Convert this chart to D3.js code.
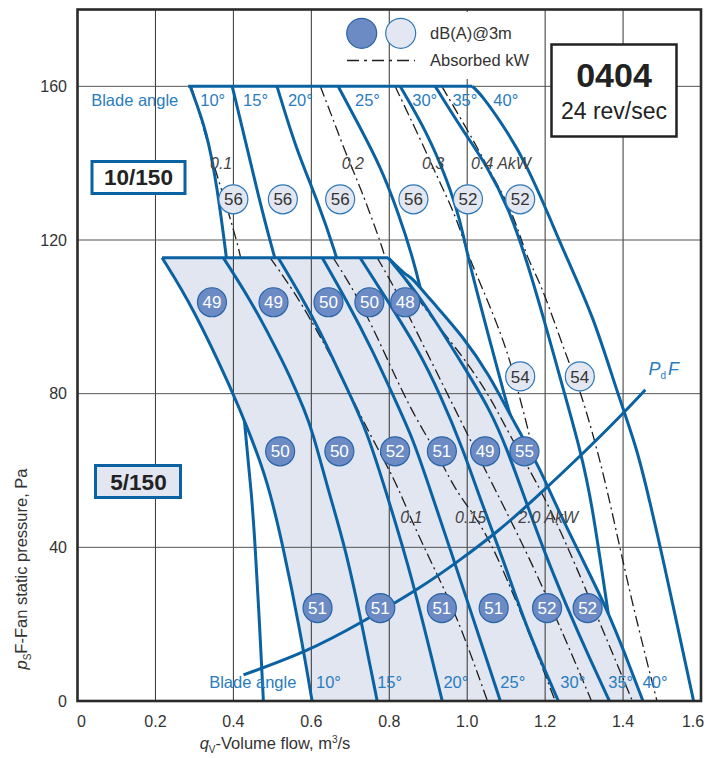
<!DOCTYPE html>
<html><head><meta charset="utf-8">
<script src="https://cdn.jsdelivr.net/npm/d3@7"></script>
<style>
body{margin:0;background:#fff;}
svg text{font-family:"Liberation Sans",Arial,Helvetica,sans-serif;}
</style></head><body>
<svg id="chart" width="723" height="758"></svg>
<script>
// ---------------- DATA (flow m3/s, static pressure Pa) ----------------
const xTicks = [0, 0.2, 0.4, 0.6, 0.8, 1.0, 1.2, 1.4, 1.6];
const xTickLabels = ["0", "0.2", "0.4", "0.6", "0.8", "1.0", "1.2", "1.4", "1.6"];
const yTicks = [0, 40, 80, 120, 160];
const bladeAngles = ["10°", "15°", "20°", "25°", "30°", "35°", "40°"];

// Hub 10/150 (upper family)
const upperTop = [[0.284,160],[1.013,160]];
const upper10 = [[0.289,160],[0.333,148.0],[0.358,133.9],[0.381,116.7],[0.404,96.7],[0.428,73.7],[0.448,52.4],[0.456,40.1],[0.468,18.5],[0.477,0]];
const upper15 = [[0.397,160],[0.430,146.2],[0.463,131.9],[0.502,116.7],[0.515,112.4]];
const upper20 = [[0.512,160],[0.561,143.6],[0.615,130.6],[0.666,115.4],[0.672,112.4]];
const upper25 = [[0.669,160],[0.725,149.3],[0.777,139.2],[0.823,127.2],[0.862,114.9],[0.882,106.5]];
const upper30 = [[0.828,160],[0.897,148.0],[0.948,135.8],[0.982,125.3],[1.003,114.9],[1.054,95.4],[1.103,76.6],[1.113,73.8]];
const upper35 = [[0.918,160],[0.990,148.3],[1.052,139.2],[1.108,127.9],[1.152,114.9],[1.195,100.1],[1.249,80.3],[1.290,65.4],[1.319,52.4],[1.362,22.7]];
const upper40 = [[1.013,160],[1.034,158.2],[1.103,148.3],[1.154,139.2],[1.206,127.2],[1.257,114.9],[1.324,100.1],[1.385,80.3],[1.437,65.4],[1.469,51.6],[1.496,40.1],[1.581,0]];
const upperKw01 = [[0.293,159.7],[0.315,152.3],[0.345,141.0],[0.383,128.8],[0.417,116.7],[0.422,113.4]];
const upperKw02 = [[0.623,160],[0.656,151.4],[0.691,141.8],[0.725,134.0],[0.785,117.5],[0.794,113.4]];
const upperKw03 = [[0.815,160],[0.880,146.2],[0.926,135.8],[0.975,125.3],[1.003,115.7],[1.041,107.1],[1.103,91.5],[1.131,80.3],[1.162,68.8],[1.195,51.6],[1.208,44.6]];
const upperKw04 = [[0.935,160],[1.025,144.4],[1.059,137.6],[1.118,127.2],[1.154,114.9],[1.188,109.2],[1.257,88.9],[1.290,81.0],[1.334,65.4],[1.367,51.6],[1.421,26.3],[1.487,0]];
const upperKwLabels = ["0.1", "0.2", "0.3", "0.4 AkW"];
const upperNoise = [[0.400,130.6,56],[0.527,130.6,56],[0.674,130.6,56],[0.862,130.6,56],[1.002,130.6,52],[1.136,130.6,52],[1.136,84.5,54],[1.289,84.5,54]];

// Hub 5/150 (lower, shaded family)
const lowerTop = [[0.217,115.4],[0.797,115.4]];
const lower10 = [[0.217,115.4],[0.297,102.4],[0.399,80.3],[0.438,70.6],[0.487,57.6],[0.528,40.1],[0.571,18.5],[0.602,0]];
const lower15 = [[0.374,115.4],[0.443,104.5],[0.502,93.3],[0.546,84.4],[0.582,75.8],[0.602,70.6],[0.648,53.2],[0.687,40.1],[0.733,18.5],[0.769,0]];
const lower20 = [[0.515,115.4],[0.605,100.1],[0.674,85.0],[0.743,70.6],[0.795,53.2],[0.854,34.1],[0.936,0]];
const lower25 = [[0.628,115.4],[0.692,104.0],[0.756,91.5],[0.815,78.4],[0.862,68.0],[0.905,55.0],[0.957,39.3],[1.008,23.7],[1.085,0]];
const lower30 = [[0.725,115.4],[0.797,104.0],[0.874,91.5],[0.931,79.7],[0.990,65.4],[1.034,52.4],[1.093,36.7],[1.154,18.5],[1.234,0]];
const lower35 = [[0.797,115.4],[0.854,108.4],[0.905,101.1],[0.990,87.3],[1.059,75.8],[1.103,65.4],[1.149,52.4],[1.201,38.0],[1.257,24.2],[1.316,10.7],[1.365,0]];
const lower40 = [[0.797,115.4],[0.846,110.5],[0.856,110.5],[0.905,104.5],[0.990,94.9],[1.059,84.4],[1.103,75.8],[1.136,69.8],[1.188,60.2],[1.221,52.4],[1.290,38.0],[1.360,23.7],[1.406,12.0],[1.451,0]];
const lowerKw010 = [[0.494,115.4],[0.571,104.5],[0.674,85.5],[0.743,70.6],[0.815,57.6],[0.854,47.7],[0.905,36.7],[0.975,21.9],[1.052,0]];
const lowerKw015 = [[0.656,115.4],[0.713,106.3],[0.769,94.9],[0.854,75.8],[0.918,65.4],[0.969,55.0],[1.008,49.8],[1.059,42.0],[1.136,23.7],[1.226,0]];
const lowerKw020 = [[0.769,115.4],[0.821,106.3],[0.880,94.1],[0.944,81.0],[0.995,70.6],[1.046,60.2],[1.098,49.8],[1.162,36.7],[1.231,21.1],[1.319,0]];
const lowerKw025 = [[0.841,109.7],[0.905,100.1],[0.990,89.6],[1.059,79.2],[1.111,68.8],[1.175,57.6],[1.239,44.6],[1.316,26.3],[1.424,0]];
const lowerKwLabels = ["0.1", "0.15", "2.0 AkW"];
const lowerNoise = [[0.345,103.8,49],[0.503,103.8,49],[0.644,103.8,50],[0.749,103.8,50],[0.841,103.8,48],
  [0.520,65,50],[0.672,65,50],[0.815,65,52],[0.935,65,51],[1.046,65,49],[1.147,65,55],
  [0.616,24.2,51],[0.777,24.2,51],[0.935,24.2,51],[1.068,24.2,51],[1.205,24.2,52],[1.309,24.2,52]];

// Dynamic pressure curve PdF
const pdF = [[0.426,6.8],[0.589,12.8],[0.725,20.2],[0.880,29.4],[0.982,36.7],[1.085,44.6],[1.171,52.4],[1.290,63.7],[1.402,75.0],[1.457,81.0]];

// ---------------- DRAWING ----------------
const svg = d3.select("#chart");
const X0 = 77.5, X1 = 701, Y0 = 701, Y1 = 9.5;
const x = d3.scaleLinear().domain([0, 1.6]).range([X0, X1]);
const y = d3.scaleLinear().domain([0, 180]).range([Y0, Y1]);
const BLUE = "#0b62a3", LBLUE = "#2a7cc0", SHADE = "#e2e6f1", DARKC = "#6c8bc4", LIGHTC = "#e3e7f2";
const line = d3.line().x(d => x(d[0])).y(d => y(d[1])).curve(d3.curveBasis);
const straight = d3.line().x(d => x(d[0])).y(d => y(d[1]));

svg.append("rect").attr("width", 723).attr("height", 758).attr("fill", "#fff");
const defs = svg.append("defs");
defs.append("clipPath").attr("id", "plot").append("rect")
  .attr("x", X0).attr("y", Y1).attr("width", X1 - X0).attr("height", Y0 - Y1);
const shadePath = line(lower40) + "L" + line(lower10.slice().reverse()).slice(1) + "Z";
defs.append("clipPath").attr("id", "shade").append("path").attr("d", shadePath);

function grid(g) {
  g.selectAll(".vx").data(xTicks.slice(1, -1)).join("line")
    .attr("x1", d => x(d)).attr("x2", d => x(d)).attr("y1", Y1).attr("y2", Y0)
    .attr("stroke", "#333").attr("stroke-width", 1);
  g.selectAll(".hy").data(yTicks.slice(1)).join("line")
    .attr("y1", d => y(d)).attr("y2", d => y(d)).attr("x1", X0).attr("x2", X1)
    .attr("stroke", "#555").attr("stroke-width", 1);
}
const plot = svg.append("g").attr("clip-path", "url(#plot)");
grid(plot.append("g"));

function curve(g, data, isKw) {
  const p = g.append("path").attr("d", line(data)).attr("fill", "none");
  if (isKw) p.attr("stroke", "#1e1e1e").attr("stroke-width", 1.3).attr("stroke-dasharray", "11,4,2,4");
  else p.attr("stroke", BLUE).attr("stroke-width", 3).attr("stroke-linejoin", "round");
}

// upper family
const up = plot.append("g");
[upperKw01, upperKw02, upperKw03, upperKw04].forEach(c => curve(up, c, true));
up.append("path").attr("d", straight(upperTop)).attr("fill", "none").attr("stroke", BLUE).attr("stroke-width", 3);
[upper10, upper15, upper20, upper25, upper30, upper35, upper40].forEach(c => curve(up, c, false));

// shaded area for 5/150
plot.append("path").attr("d", shadePath).attr("fill", SHADE);
grid(plot.append("g").attr("clip-path", "url(#shade)"));

// lower family
const lo = plot.append("g");
[lowerKw010, lowerKw015, lowerKw020, lowerKw025].forEach(c => curve(lo, c, true));
lo.append("path").attr("d", straight(lowerTop)).attr("fill", "none").attr("stroke", BLUE).attr("stroke-width", 3);
[lower10, lower15, lower20, lower25, lower30, lower35, lower40].forEach(c => curve(lo, c, false));

// PdF
plot.append("path").attr("d", line(pdF)).attr("fill", "none").attr("stroke", BLUE).attr("stroke-width", 3);

// noise circles
function circles(data, fill, stroke, txt) {
  const g = svg.append("g");
  const cg = g.selectAll("g").data(data).join("g").attr("transform", d => `translate(${x(d[0])},${y(d[1])})`);
  cg.append("circle").attr("r", 14.5).attr("fill", fill).attr("stroke", stroke).attr("stroke-width", 1.2);
  cg.append("text").attr("text-anchor", "middle").attr("dy", "0.36em").attr("font-size", 17)
    .attr("fill", txt).text(d => d[2]);
}
circles(upperNoise, LIGHTC, "#2f78b8", "#333");
circles(lowerNoise, DARKC, "#2a64a8", "#fff");

// blade angle labels
const ann = svg.append("g").attr("font-size", 16.5).attr("fill", LBLUE);
ann.append("text").attr("x", x(0.035)).attr("y", y(155)).text("Blade angle");
const upperAngleX = [0.315, 0.425, 0.540, 0.712, 0.859, 0.962, 1.067];
bladeAngles.forEach((a, i) => ann.append("text").attr("x", x(upperAngleX[i])).attr("y", y(155)).text(a));
ann.append("text").attr("x", x(0.338)).attr("y", y(3.4)).text("Blade angle");
const lowerAngleX = [0.612, 0.769, 0.939, 1.085, 1.239, 1.362, 1.450];
bladeAngles.forEach((a, i) => ann.append("text").attr("x", x(lowerAngleX[i])).attr("y", y(3.4)).text(a));

// AkW labels
const kw = svg.append("g").attr("font-size", 16).attr("font-style", "italic").attr("fill", "#444");
const upperKwX = [0.340, 0.678, 0.884, 1.010];
upperKwLabels.forEach((t, i) => kw.append("text").attr("x", x(upperKwX[i])).attr("y", y(138.4)).text(t));
const lowerKwX = [0.828, 0.969, 1.131];
lowerKwLabels.forEach((t, i) => kw.append("text").attr("x", x(lowerKwX[i])).attr("y", y(46.4)).text(t));

// PdF label
const pl = svg.append("text").attr("x", x(1.465)).attr("y", y(84.8)).attr("font-size", 18)
  .attr("fill", LBLUE).attr("font-style", "italic");
pl.append("tspan").text("P");
pl.append("tspan").attr("font-size", 10).attr("dy", 4).attr("font-style", "normal").text("d");
pl.append("tspan").attr("dy", -4).attr("dx", 2).text("F");

// legend
svg.append("rect").attr("x", 420).attr("y", 12).attr("width", 120).attr("height", 67).attr("fill", "#fff");
svg.append("circle").attr("cx", 361.7).attr("cy", 33.3).attr("r", 15).attr("fill", DARKC).attr("stroke", "#2a64a8").attr("stroke-width", 1.2);
svg.append("circle").attr("cx", 400.7).attr("cy", 33.3).attr("r", 15).attr("fill", LIGHTC).attr("stroke", "#2f78b8").attr("stroke-width", 1.2);
svg.append("line").attr("x1", 347).attr("x2", 415).attr("y1", 60.5).attr("y2", 60.5)
  .attr("stroke", "#1e1e1e").attr("stroke-width", 1.5).attr("stroke-dasharray", "12,5,3,5");
svg.append("text").attr("x", 430).attr("y", 38.5).attr("font-size", 16.5).attr("fill", "#333").text("dB(A)@3m");
svg.append("text").attr("x", 430).attr("y", 66).attr("font-size", 16.5).attr("fill", "#333").text("Absorbed kW");

// title box
svg.append("rect").attr("x", 551.5).attr("y", 44.5).attr("width", 125).attr("height", 92)
  .attr("fill", "#fff").attr("stroke", "#222").attr("stroke-width", 2.5);
svg.append("text").attr("x", 614).attr("y", 87).attr("text-anchor", "middle").attr("font-size", 34)
  .attr("font-weight", "bold").attr("fill", "#222").text("0404");
svg.append("text").attr("x", 614).attr("y", 119).attr("text-anchor", "middle").attr("font-size", 23)
  .attr("fill", "#222").text("24 rev/sec");

// hub boxes
svg.append("rect").attr("x", 92).attr("y", 161.5).attr("width", 93).attr("height", 32)
  .attr("fill", "#fff").attr("stroke", BLUE).attr("stroke-width", 3);
svg.append("text").attr("x", 138.5).attr("y", 185).attr("text-anchor", "middle").attr("font-size", 22.5)
  .attr("font-weight", "bold").attr("fill", "#222").text("10/150");
svg.append("rect").attr("x", 95.5).attr("y", 465.5).attr("width", 85).attr("height", 32)
  .attr("fill", SHADE).attr("stroke", BLUE).attr("stroke-width", 3);
svg.append("text").attr("x", 138.5).attr("y", 489.5).attr("text-anchor", "middle").attr("font-size", 22.5)
  .attr("font-weight", "bold").attr("fill", "#222").text("5/150");

// frame
svg.append("rect").attr("x", X0).attr("y", Y1).attr("width", X1 - X0).attr("height", Y0 - Y1)
  .attr("fill", "none").attr("stroke", "#2a2a2a").attr("stroke-width", 2.6);

// axes tick labels
const tg = svg.append("g").attr("font-size", 16).attr("fill", "#333");
xTicks.forEach((t, i) => {
  let dx = 0; if (i === 0) dx = 4; if (i === xTicks.length - 1) dx = -8;
  tg.append("text").attr("x", x(t) + dx).attr("y", 727).attr("text-anchor", "middle").text(xTickLabels[i]);
});
yTicks.forEach(t => tg.append("text").attr("x", 67).attr("y", y(t)).attr("dy", "0.35em")
  .attr("text-anchor", "end").text(t));

// axis titles
const xt = svg.append("text").attr("x", 275).attr("y", 749).attr("text-anchor", "middle")
  .attr("font-size", 16.5).attr("fill", "#333");
xt.append("tspan").attr("font-style", "italic").text("q");
xt.append("tspan").attr("font-size", 10).attr("dy", 4).text("V");
xt.append("tspan").attr("dy", -4).text("-Volume flow, m");
xt.append("tspan").attr("font-size", 10).attr("dy", -6).text("3");
xt.append("tspan").attr("dy", 6).text("/s");

const yt = svg.append("text").attr("transform", "translate(27,569) rotate(-90)").attr("text-anchor", "middle")
  .attr("font-size", 16.5).attr("fill", "#333");
yt.append("tspan").attr("font-style", "italic").text("p");
yt.append("tspan").attr("font-size", 10).attr("dy", 4).text("S");
yt.append("tspan").attr("dy", -4).text("F-Fan static pressure, Pa");
</script>
</body></html>
